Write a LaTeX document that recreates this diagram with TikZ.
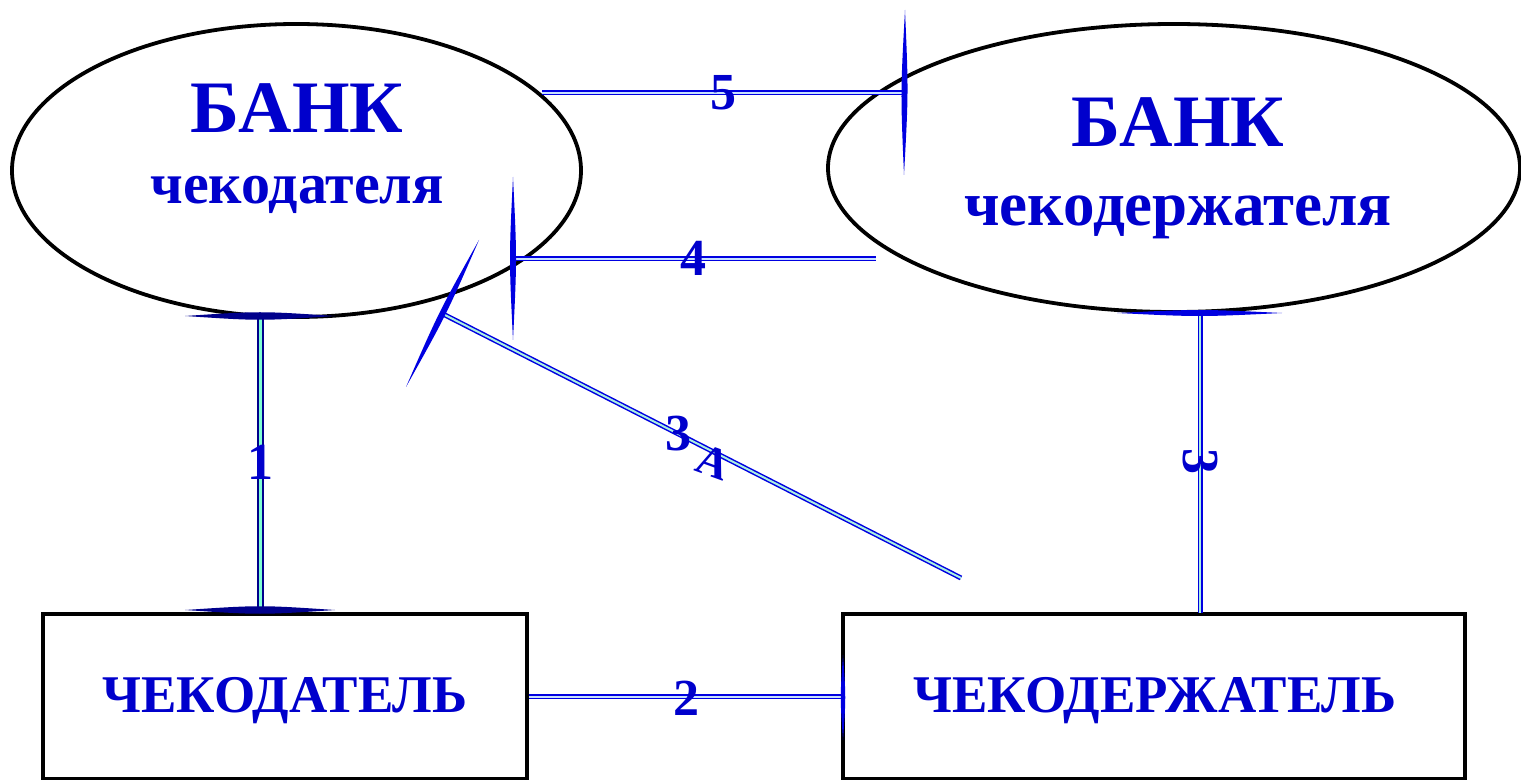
\documentclass[tikz,border=0pt]{standalone}
\usepackage{fontspec}
\setmainfont{Liberation Serif}
\usetikzlibrary{calc,shapes.geometric}
\definecolor{txtblue}{RGB}{0,0,204}
\definecolor{lnblue}{RGB}{0,0,225}
\definecolor{lnnavy}{RGB}{0,0,140}
\definecolor{inlight}{RGB}{200,225,255}
\definecolor{inaqua}{RGB}{170,240,225}
\definecolor{aquam}{RGB}{127,255,212}
\newcommand\myspike[3][2pt]{%
  \fill (#2) .. controls ($(#2)!0.5!(#3)!#1!90:(#3)$) .. (#3)
             .. controls ($(#2)!0.5!(#3)!#1!-90:(#3)$) .. (#2) -- cycle;}
\begin{document}
\begin{tikzpicture}[x=0.5pt,y=-0.5pt,
  bank/.style={draw=black, line width=1.9pt, ellipse, inner sep=0pt},
  party/.style={draw=black, line width=2pt, rectangle, inner sep=0pt},
  bigtxt/.style={font=\bfseries\fontsize{37}{37}\selectfont, text=txtblue, inner sep=0pt, anchor=base},
  smalltxt/.style={font=\bfseries\fontsize{29}{30}\selectfont, text=txtblue, inner sep=0pt, anchor=base},
  boxtxt/.style={font=\bfseries\fontsize{26.5}{27}\selectfont, text=txtblue, inner sep=0pt, anchor=base},
  numtxt/.style={font=\bfseries\fontsize{26}{26}\selectfont, text=txtblue, inner sep=0pt},
  conn/.style={line width=0.75pt, draw=lnblue, double=inlight, double distance=1pt},
  connaq/.style={line width=0.75pt, draw=lnblue, double=inaqua, double distance=1pt},
  connnavy/.style={line width=1pt, draw=lnnavy, double=aquam, double distance=1.5pt},
]
\useasboundingbox (0,0) rectangle (1521,780);

% banks
\node[bank, minimum width=284.5pt, minimum height=146.5pt] (e1) at (296.5,170.5) {};
\node[bank, minimum width=346pt, minimum height=144pt] (e2) at (1174,168) {};
% parties
\node[party, minimum width=242pt, minimum height=82.5pt] (r1) at (285,696.5) {};
\node[party, minimum width=311pt, minimum height=82.5pt] (r2) at (1154,696.5) {};

% texts
\node[bigtxt] (t1) at (297,133) {БАНК};
\node[smalltxt] (t2) at (297,204) {чекодателя};
\node[bigtxt] (t3) at (1178,147) {БАНК};
\node[smalltxt, font=\bfseries\fontsize{31.5}{32}\selectfont] (t4) at (1178,226) {чекодержателя};
\node[boxtxt] (t5) at (285,712) {ЧЕКОДАТЕЛЬ};
\node[boxtxt] (t6) at (1155,712) {ЧЕКОДЕРЖАТЕЛЬ};

% connector end points
\coordinate (a5) at (542,93);   \coordinate (b5) at (905,93);
\coordinate (a4) at (513,259);  \coordinate (b4) at (876,259);
\coordinate (a3A) at (441,313); \coordinate (b3A) at (961,578);
\coordinate (a1) at (260,316);  \coordinate (b1) at (260,610);
\coordinate (a3) at (1200,313); \coordinate (b3) at (1200,613);

% connectors
\draw[conn] (a5) -- (b5);
\draw[conn] (a4) -- (b4);
\draw[connaq] (a3A) -- (b3A);
\draw[connnavy] (a1) -- (b1);
\draw[connaq] (a3) -- (b3);
\draw[conn] (r1.east) -- (r2.west);

% spike heads
\coordinate (s5a) at (905,10);   \coordinate (s5b) at (904,175);
\coordinate (s4a) at (513,177);  \coordinate (s4b) at (513,340);
\coordinate (s3Aa) at (479,240); \coordinate (s3Ab) at (406,387);
\coordinate (s1a) at (185,316);  \coordinate (s1b) at (335,316);
\coordinate (s1c) at (185,610);  \coordinate (s1d) at (335,610);
\coordinate (s3a) at (1117,313); \coordinate (s3b) at (1282,313);
\coordinate (s2a) at (843,655);  \coordinate (s2b) at (843,740);
\begin{scope}[fill=lnblue]
\myspike{s5a}{s5b}
\myspike{s4a}{s4b}
\myspike{s3Aa}{s3Ab}
\myspike{s3a}{s3b}
\myspike[1.5pt]{s2a}{s2b}
\end{scope}
\begin{scope}[fill=lnnavy]
\myspike[2.5pt]{s1a}{s1b}
\myspike[2.5pt]{s1c}{s1d}
\end{scope}

% numbers
\node[numtxt, anchor=base] (n5) at (723,110) {5};
\node[numtxt, anchor=base] (n4) at (693,276) {4};
\node[numtxt, anchor=base] (n2) at (686,715) {2};
\node[numtxt, anchor=base] (n1) at (260,480) {1};
\node[numtxt, rotate=-90] (n3) at (1200,462) {3};
\node[numtxt, anchor=base] (n3A) at (678,451) {3};
\node[numtxt, rotate=-20, font=\bfseries\fontsize{22}{22}\selectfont] (n3Ab) at (713,462) {А};
\end{tikzpicture}
\end{document}
